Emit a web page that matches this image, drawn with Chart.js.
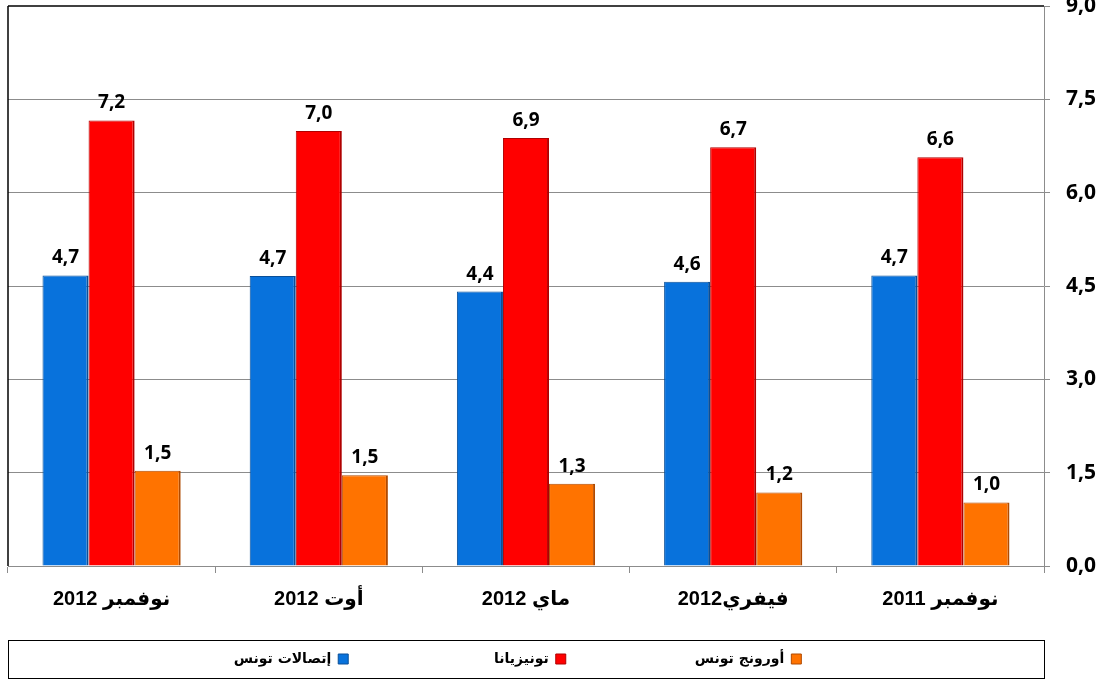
<!DOCTYPE html>
<html><head><meta charset="utf-8">
<script src="https://cdn.jsdelivr.net/npm/chart.js@4"></script>
<style>html,body{margin:0;padding:0;background:#fff}#wrap{width:1107px;height:682px}</style>
</head><body><div id="wrap"><canvas id="c" width="1107" height="682"></canvas></div>
<script>
// Categories in chronological order (axis is displayed reversed, right-to-left)
const categories = ['نوفمبر 2011', 'فيفري2012', 'ماي 2012', 'أوت 2012', 'نوفمبر 2012'];
const seriesNames = ['إتصالات تونس', 'تونيزيانا', 'أورونج تونس'];
const tunisieTelecom = [4.67, 4.57, 4.41, 4.66, 4.67];
const tunisiana = [6.57, 6.73, 6.88, 6.99, 7.16];
const orangeTunisie = [1.02, 1.18, 1.32, 1.46, 1.53];
const yTicks = [0, 1.5, 3, 4.5, 6, 7.5, 9];

const fmt = v => v.toFixed(1).replace('.', ',');
const NUM_FAMILY = '"Open Sans", "DejaVu Sans", sans-serif';
const LEGEND_SHIFT = -40;

const valueLabels = {
  id: 'valueLabels',
  afterDatasetsDraw(chart) {
    const ctx = chart.ctx;
    ctx.save();
    ctx.font = 'bold 19px ' + NUM_FAMILY;
    ctx.fillStyle = '#000';
    ctx.textAlign = 'center';
    ctx.textBaseline = 'bottom';
    chart.data.datasets.forEach((ds, i) => {
      const meta = chart.getDatasetMeta(i);
      meta.data.forEach((bar, j) => {
        ctx.fillText(fmt(ds.data[j]), bar.x, bar.y - 8);
      });
    });
    ctx.restore();
  }
};

const frames = {
  id: 'frames',
  afterLayout(chart) {
    const lg = chart.legend;
    if (lg) { lg.left += LEGEND_SHIFT; lg.right += LEGEND_SHIFT; }
  },
  afterDraw(chart) {
    const ctx = chart.ctx, a = chart.chartArea;
    ctx.save();
    ctx.strokeStyle = '#404040';
    ctx.lineWidth = 2;
    ctx.beginPath();
    ctx.moveTo(a.left, a.top);
    ctx.lineTo(a.right, a.top);
    ctx.stroke();
    ctx.strokeStyle = '#000';
    ctx.lineWidth = 1.5;
    ctx.beginPath();
    ctx.moveTo(a.left, a.top);
    ctx.lineTo(a.left, a.bottom);
    ctx.stroke();
    const lg = chart.legend;
    if (lg && lg.legendHitBoxes && lg.legendHitBoxes.length) {
      const hb = lg.legendHitBoxes[0];
      const cy = hb.top + hb.height / 2;
      ctx.strokeStyle = '#000';
      ctx.lineWidth = 1;
      ctx.strokeRect(a.left + 0.5, Math.round(cy - 19) + 0.5, a.right - a.left, 38);
    }
    ctx.restore();
  }
};

const GAP = '\u2003\u2003\u2003\u2003\u2003\u2003\u2003';
const EXTRA = ['', '\u2003\u2003\u2002\u2009', '\u2003\u2002'];
const BAR_BORDER = {top: 1, left: 1, right: 2, bottom: 0};

new Chart(document.getElementById('c'), {
  type: 'bar',
  data: {
    labels: categories,
    datasets: [
      {label: seriesNames[0], data: tunisieTelecom, backgroundColor: '#0872dc', borderColor: '#0a4f98', borderWidth: BAR_BORDER, borderSkipped: false},
      {label: seriesNames[1], data: tunisiana, backgroundColor: '#ff0000', borderColor: '#b00000', borderWidth: BAR_BORDER, borderSkipped: false},
      {label: seriesNames[2], data: orangeTunisie, backgroundColor: '#ff7300', borderColor: '#b04a00', borderWidth: BAR_BORDER, borderSkipped: false}
    ]
  },
  options: {
    responsive: false,
    animation: false,
    devicePixelRatio: 1,
    layout: {padding: {left: 8, right: 0, top: 0, bottom: 6}},
    datasets: {bar: {categoryPercentage: 0.667, barPercentage: 1}},
    plugins: {
      tooltip: {enabled: false},
      legend: {
        position: 'bottom',
        rtl: true,
        reverse: true,
        textDirection: 'rtl',
        labels: {
          boxWidth: 10, boxHeight: 10, padding: 10,
          color: '#000',
          font: {family: '"DejaVu Sans", sans-serif', weight: 'bold', size: 14},
          generateLabels: chart => Chart.defaults.plugins.legend.labels.generateLabels(chart).map(it => {
            if (it.datasetIndex !== 0) it.text = it.text + GAP + EXTRA[it.datasetIndex];
            it.lineWidth = 1;
            return it;
          })
        }
      }
    },
    scales: {
      x: {
        reverse: true,
        offset: true,
        grid: {offset: true, drawOnChartArea: false, color: '#8c8c8c', tickLength: 7},
        border: {color: '#8c8c8c', width: 1},
        afterFit: s => { s.height = 76; },
        ticks: {color: '#000', padding: 14, maxRotation: 0,
          font: {family: '"Liberation Sans", "DejaVu Sans", sans-serif', weight: 'bold', size: 20}}
      },
      y: {
        position: 'right',
        min: 0, max: 9,
        afterBuildTicks: s => { s.ticks = yTicks.map(v => ({value: v})); },
        afterFit: s => { s.paddingTop = 6; s.width = 63; },
        grid: {color: '#8c8c8c', tickLength: 6},
        border: {color: '#8c8c8c', width: 1},
        ticks: {color: '#000', padding: 16, font: {family: NUM_FAMILY, weight: 'bold', size: 21}, callback: v => fmt(v)}
      }
    }
  },
  plugins: [valueLabels, frames]
});
</script></body></html>
